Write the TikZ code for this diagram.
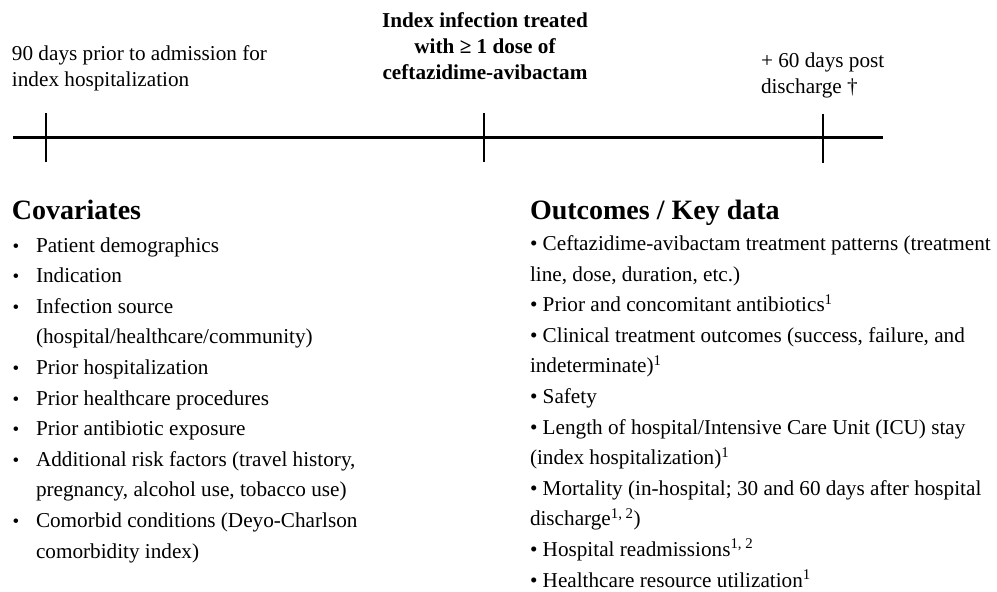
\documentclass[tikz,border=0pt]{standalone}
\usepackage{fontspec}
\setmainfont{Liberation Serif}
\begin{document}
\begin{tikzpicture}[x=1pt,y=-1pt,
  txt/.style={inner sep=0pt,outer sep=0pt,anchor=base west,font=\fontsize{21.2}{27}\selectfont},
  ttl/.style={inner sep=0pt,outer sep=0pt,anchor=base west,font=\fontsize{28}{32}\selectfont\bfseries},
  bul/.style={inner sep=0pt,outer sep=0pt,anchor=base,font=\fontsize{19}{22}\selectfont},
  axis/.style={line width=2.4pt},
  tick/.style={line width=2pt}]
\useasboundingbox (0,0) rectangle (997,592);
% timeline
\coordinate (L0) at (13,137.5);
\coordinate (L1) at (883,137.5);
\coordinate (T1a) at (46,113); \coordinate (T1b) at (46,162);
\coordinate (T2a) at (484,113); \coordinate (T2b) at (484,162);
\coordinate (T3a) at (823,114); \coordinate (T3b) at (823,163);
\draw[axis] (L0) -- (L1);
\draw[tick] (T1a) -- (T1b);
\draw[tick] (T2a) -- (T2b);
\draw[tick] (T3a) -- (T3b);
% top labels
\node[txt] (a1) at (12,60) {90 days prior to admission for};
\node[txt] (a2) at (12,86) {index hospitalization};
\node[txt,anchor=base,font=\fontsize{21.2}{27}\selectfont\bfseries] (b1) at (485,27) {Index infection treated};
\node[txt,anchor=base,font=\fontsize{21.2}{27}\selectfont\bfseries] (b2) at (485,53) {with ≥ 1 dose of};
\node[txt,anchor=base,font=\fontsize{21.2}{27}\selectfont\bfseries] (b3) at (485,79) {ceftazidime-avibactam};
\node[txt] (c1) at (761,67) {+ 60 days post};
\node[txt] (c2) at (761,93) {discharge †};
% headings
\node[ttl] (h1) at (12,219) {Covariates};
\node[ttl] (h2) at (530,219) {Outcomes / Key data};
% left list
\foreach \t [count=\i] in {Patient demographics,Indication,Infection source,(hospital/healthcare/community),Prior hospitalization,Prior healthcare procedures,Prior antibiotic exposure,{Additional risk factors (travel history,},{pregnancy, alcohol use, tobacco use)},Comorbid conditions (Deyo-Charlson,comorbidity index)}
  \node[txt] (l\i) at (36,{252+(\i-1)*30.6}) {\t};
\foreach \i in {1,2,3,5,6,7,8,10}
  \node[bul] (lb\i) at (16,{252+(\i-1)*30.6}) {•};
% right list
\foreach \t [count=\i] in {• Ceftazidime-avibactam treatment patterns (treatment,{line, dose, duration, etc.)},• Prior and concomitant antibiotics\textsuperscript{1},{• Clinical treatment outcomes (success, failure, and},indeterminate)\textsuperscript{1},• Safety,• Length of hospital/Intensive Care Unit (ICU) stay,(index hospitalization)\textsuperscript{1},• Mortality (in-hospital; 30 and 60 days after hospital,{discharge\textsuperscript{1, 2})},{• Hospital readmissions\textsuperscript{1, 2}},• Healthcare resource utilization\textsuperscript{1}}
  \node[txt] (r\i) at (530,{250.5+(\i-1)*30.6}) {\t};
\end{tikzpicture}
\end{document}
